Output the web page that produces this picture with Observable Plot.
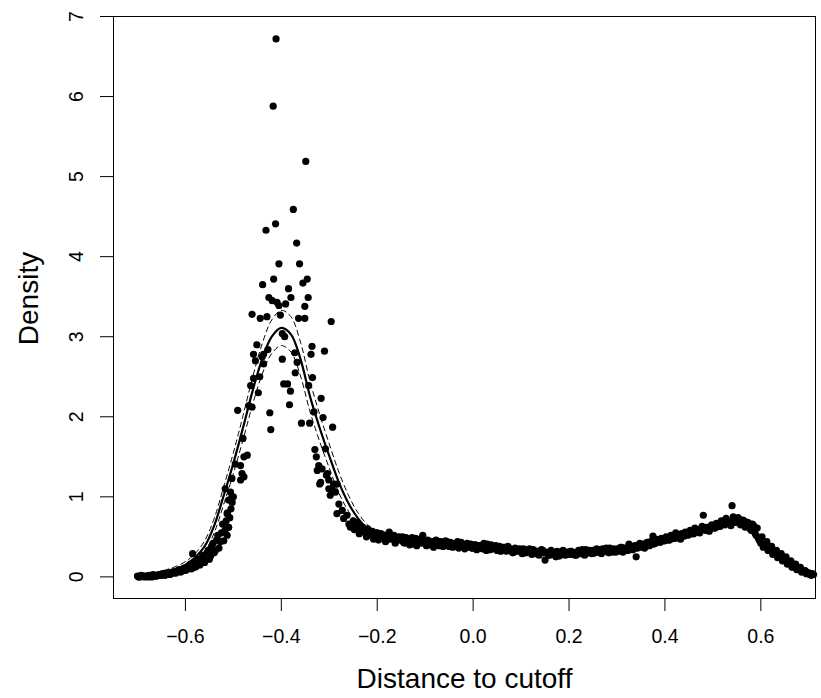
<!DOCTYPE html>
<html><head><meta charset="utf-8">
<script src="https://cdn.jsdelivr.net/npm/d3@7"></script>
<script src="https://cdn.jsdelivr.net/npm/@observablehq/plot@0.6"></script>
<style>body{margin:0;background:#fff}</style>
</head><body><div id="chart"></div>
<script>
// ---------- data ----------
const xLabel = "Distance to cutoff";
const yLabel = "Density";
const xTicks = [-0.6, -0.4, -0.2, 0.0, 0.2, 0.4, 0.6];
const yTicks = [0, 1, 2, 3, 4, 5, 6, 7];

// left tail bins: x = -0.700, -0.695, ... (step 0.005)
const tailStart = -0.700, tailStep = 0.005;
const tailY = [0.01,0.00,0.01,0.00,0.01,0.02,0.00,0.02,0.01,0.03,
  0.02,0.04,0.03,0.05,0.04,0.06,0.05,0.08,0.06,0.10,
  0.08,0.12,0.16,0.29,0.12,0.20,0.15,0.25,0.18,0.30,
  0.22,0.38,0.30,0.46,0.36,0.55,0.45,0.70,0.62,0.85,1.00];
// interleaved left-tail bins: x = -0.6975, -0.6925, ...
const tail2Start = -0.6975;
const tail2Y = [0.00,0.02,0.01,0.01,0.00,0.01,0.03,0.01,0.02,0.02,
  0.04,0.02,0.04,0.03,0.06,0.05,0.07,0.09,0.07,0.11,
  0.09,0.14,0.10,0.18,0.13,0.22,0.17,0.27,0.21,0.33,
  0.26,0.42,0.33,0.52,0.44,0.66,0.58,0.80,0.74,0.93];

// peak region (scattered bins)
const peakX = [-0.517,-0.513,-0.513,-0.510,-0.510,-0.506,-0.503,-0.503,-0.496,-0.491,
  -0.485,-0.485,-0.482,-0.480,-0.478,-0.478,-0.471,-0.468,-0.464,-0.461,
  -0.458,-0.461,-0.458,-0.454,-0.451,-0.448,-0.445,-0.444,-0.440,-0.439,
  -0.437,-0.437,-0.432,-0.430,-0.428,-0.426,-0.424,-0.422,-0.419,-0.417,
  -0.416,-0.412,-0.411,-0.409,-0.405,-0.405,-0.402,-0.398,-0.398,-0.395,
  -0.393,-0.391,-0.387,-0.385,-0.383,-0.381,-0.380,-0.375,-0.372,-0.371,
  -0.368,-0.367,-0.364,-0.362,-0.358,-0.355,-0.351,-0.351,-0.349,-0.346,
  -0.344,-0.343,-0.341,-0.338,-0.336,-0.335,-0.332,-0.330,-0.327,-0.325,
  -0.322,-0.320,-0.318,-0.317,-0.315,-0.313,-0.310,-0.308,-0.306,-0.304,
  -0.301,-0.301,-0.298,-0.296,-0.294,-0.293,-0.291,-0.287,-0.284,-0.284,
  -0.280,-0.273,-0.270,-0.263,-0.259,-0.256,-0.252];
const peakY = [1.10,0.79,0.52,0.96,0.62,1.06,1.23,1.00,1.41,2.08,
  1.39,1.21,1.29,1.73,1.50,1.25,1.52,2.14,2.39,2.12,
  2.48,3.28,2.78,2.70,2.90,2.30,2.50,3.23,2.75,3.65,
  2.78,2.66,4.33,3.25,2.84,3.49,2.05,1.84,3.45,5.88,
  3.72,4.41,6.72,3.43,3.91,3.39,3.27,3.04,2.72,2.41,
  3.00,3.41,2.41,3.60,2.15,2.32,3.49,4.59,2.80,2.55,
  4.17,2.68,3.23,3.91,1.92,3.67,3.38,3.23,5.19,3.72,
  3.49,2.39,1.92,2.78,2.88,2.49,2.06,1.59,1.50,1.33,
  1.39,1.16,1.18,2.23,1.35,1.99,2.82,1.60,1.27,1.29,
  1.21,1.10,1.02,3.19,1.10,1.87,1.16,1.06,1.16,0.79,
  0.91,0.83,0.73,0.77,0.66,0.62,0.62];

// flat part and right bump: x = -0.250, -0.245, ... 0.710 (step 0.005)
const bodyStart = -0.250, bodyStep = 0.005;
const bodyY = [
  0.70,0.64,0.66,0.58,0.62,0.55,0.60,0.52,0.57,0.50,
  0.55,0.49,0.53,0.47,0.51,0.56,0.48,0.52,0.45,0.50,
  0.47,0.43,0.49,0.44,0.46,0.41,0.48,0.43,0.45,0.52,
  0.42,0.46,0.40,0.44,0.41,0.45,0.39,0.43,0.40,0.44,
  0.38,0.42,0.39,0.41,0.36,0.43,0.38,0.40,0.37,0.41,
  0.36,0.40,0.37,0.39,0.35,0.38,0.41,0.34,0.37,0.36,
  0.33,0.38,0.35,0.37,0.32,0.36,0.34,0.31,0.35,0.33,
  0.32,0.35,0.30,0.33,0.31,0.34,0.29,0.32,0.30,0.33,
  0.21,0.30,0.27,0.31,0.28,0.32,0.26,0.30,0.29,0.31,
  0.28,0.32,0.30,0.27,0.33,0.29,0.31,0.34,0.30,0.32,
  0.33,0.30,0.34,0.31,0.35,0.32,0.33,0.36,0.31,0.34,
  0.35,0.32,0.37,0.34,0.36,0.41,0.38,0.35,0.25,0.39,
  0.37,0.41,0.38,0.43,0.40,0.51,0.42,0.45,0.43,0.47,
  0.45,0.49,0.46,0.50,0.48,0.52,0.49,0.54,0.51,0.55,
  0.53,0.57,0.54,0.59,0.56,0.60,0.77,0.58,0.62,0.60,
  0.64,0.61,0.66,0.63,0.68,0.65,0.70,0.67,0.89,0.71,
  0.68,0.72,0.66,0.70,0.63,0.67,0.58,0.64,0.52,0.48,
  0.42,0.37,0.40,0.33,0.36,0.28,0.31,0.24,0.27,0.20,
  0.22,0.16,0.18,0.12,0.14,0.09,0.10,0.06,0.07,0.04,
  0.05,0.02,0.03];
// interleaved bins: x = -0.2475, -0.2425, ... 0.7075
const body2Start = -0.2475;
const body2Y = [
  0.59,0.68,0.54,0.61,0.57,0.50,0.58,0.53,0.47,0.55,
  0.46,0.54,0.50,0.44,0.53,0.47,0.51,0.42,0.49,0.46,
  0.50,0.42,0.46,0.40,0.49,0.44,0.39,0.47,0.42,0.45,
  0.39,0.45,0.43,0.37,0.46,0.40,0.44,0.38,0.45,0.41,
  0.43,0.37,0.41,0.44,0.38,0.40,0.35,0.42,0.39,0.36,
  0.40,0.34,0.39,0.36,0.42,0.33,0.38,0.40,0.35,0.39,
  0.36,0.32,0.37,0.33,0.38,0.34,0.30,0.36,0.32,0.35,
  0.29,0.34,0.31,0.35,0.28,0.33,0.31,0.27,0.34,0.30,
  0.31,0.27,0.33,0.29,0.25,0.31,0.28,0.33,0.27,0.30,
  0.32,0.28,0.27,0.31,0.29,0.34,0.27,0.31,0.33,0.29,
  0.30,0.35,0.32,0.29,0.34,0.36,0.30,0.33,0.35,0.31,
  0.33,0.37,0.31,0.36,0.33,0.38,0.34,0.39,0.36,0.42,
  0.40,0.36,0.43,0.39,0.45,0.41,0.47,0.44,0.48,0.45,
  0.50,0.46,0.52,0.48,0.55,0.51,0.47,0.53,0.56,0.52,
  0.58,0.54,0.61,0.57,0.55,0.63,0.59,0.62,0.57,0.65,
  0.61,0.67,0.63,0.70,0.66,0.73,0.69,0.64,0.75,0.68,
  0.74,0.65,0.71,0.62,0.68,0.60,0.66,0.55,0.61,0.45,
  0.50,0.39,0.44,0.35,0.38,0.30,0.33,0.26,0.29,0.22,
  0.25,0.18,0.20,0.14,0.16,0.11,0.12,0.07,0.08,0.05,
  0.03,0.04];

// fitted density (left of cutoff) with confidence band
const fitX = [-0.70,-0.68,-0.66,-0.64,-0.62,-0.60,-0.58,-0.56,-0.54,-0.52,
  -0.50,-0.48,-0.46,-0.44,-0.42,-0.40,-0.38,-0.36,-0.34,-0.32,
  -0.30,-0.28,-0.26,-0.24,-0.22,-0.20,-0.15,-0.10,-0.05,0.00];
const fitY = [0.01,0.02,0.04,0.07,0.10,0.15,0.24,0.38,0.64,1.02,
  1.42,1.86,2.32,2.72,3.00,3.11,3.03,2.72,2.25,1.86,
  1.51,1.18,0.92,0.73,0.60,0.53,0.46,0.42,0.39,0.37];
const fitUpper = [0.02,0.04,0.06,0.09,0.13,0.19,0.29,0.45,0.73,1.13,
  1.55,2.01,2.49,2.91,3.21,3.33,3.25,2.93,2.44,2.03,
  1.66,1.31,1.02,0.80,0.65,0.57,0.49,0.45,0.42,0.41];
const fitLower = [0.00,0.01,0.02,0.05,0.07,0.11,0.19,0.31,0.55,0.91,
  1.29,1.71,2.15,2.53,2.79,2.89,2.81,2.51,2.06,1.69,
  1.36,1.05,0.82,0.66,0.55,0.49,0.43,0.39,0.36,0.33];

// ---------- build tables ----------
const grid = (start, ys) => ys.map((y, i) => ({x: start + i * 0.005, y}));
const points = [
  ...grid(tailStart, tailY),
  ...grid(tail2Start, tail2Y),
  ...peakX.map((x, i) => ({x, y: peakY[i]})),
  ...grid(bodyStart, bodyY),
  ...grid(body2Start, body2Y)
];
const fit = fitX.map((x, i) => ({x, y: fitY[i], hi: fitUpper[i], lo: fitLower[i]}));

const font = "'Liberation Sans', Arial, Helvetica, sans-serif";
const chart = Plot.plot({
  width: 821, height: 698,
  marginLeft: 113, marginRight: 6, marginTop: 16, marginBottom: 100,
  style: {fontFamily: font, fontSize: "19.5px", background: "#fff", color: "#000", overflow: "visible"},
  x: {domain: [-0.750, 0.714]},
  y: {domain: [-0.27, 7.0]},
  marks: [
    Plot.dot(points, {x: "x", y: "y", r: 3.6, fill: "#000", stroke: null}),
    Plot.line(fit, {x: "x", y: "hi", stroke: "#000", strokeWidth: 1, strokeDasharray: "5,4", curve: "catmull-rom"}),
    Plot.line(fit, {x: "x", y: "lo", stroke: "#000", strokeWidth: 1, strokeDasharray: "5,4", curve: "catmull-rom"}),
    Plot.line(fit, {x: "x", y: "y", stroke: "#000", strokeWidth: 2.2, curve: "catmull-rom"}),
    Plot.frame({stroke: "#000", strokeWidth: 1}),
    Plot.axisX({ticks: xTicks, tickFormat: d3.format(".1f"), tickSize: 13, tickPadding: 18, label: null, fontSize: 19.5}),
    Plot.axisY({ticks: yTicks, tickFormat: d3.format("d"), tickSize: 13, tickRotate: -90, tickPadding: 18, label: null, fontSize: 19.5}),
    Plot.text([xLabel], {frameAnchor: "bottom", dy: 89, fontSize: 28}),
    Plot.text([yLabel], {frameAnchor: "left", dx: -84, dy: -9, rotate: -90, textAnchor: "middle", fontSize: 28})
  ]
});
document.getElementById("chart").appendChild(chart);
</script>
</body></html>
